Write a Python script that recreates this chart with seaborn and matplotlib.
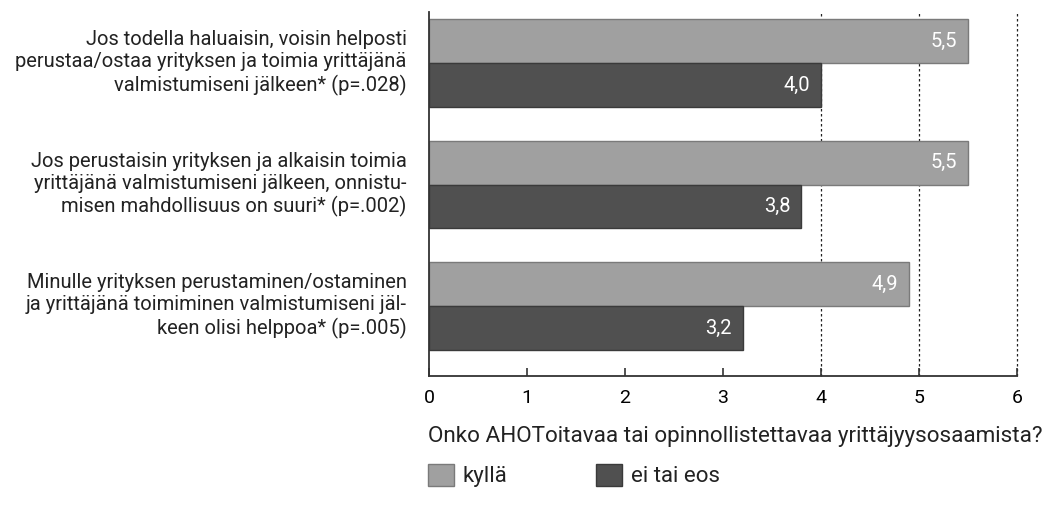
import matplotlib
matplotlib.use("Agg")
import matplotlib.pyplot as plt
import matplotlib.transforms as mtransforms
import seaborn as sns
import pandas as pd
from matplotlib.patches import Patch

categories = [
    "Jos todella haluaisin, voisin helposti\nperustaa/ostaa yrityksen ja toimia yrittäjänä\nvalmistumiseni jälkeen* (p=.028)",
    "Jos perustaisin yrityksen ja alkaisin toimia\nyrittäjänä valmistumiseni jälkeen, onnistu-\nmisen mahdollisuus on suuri* (p=.002)",
    "Minulle yrityksen perustaminen/ostaminen\nja yrittäjänä toimiminen valmistumiseni jäl-\nkeen olisi helppoa* (p=.005)",
]
series_names = ["kyllä", "ei tai eos"]
kylla_values = [5.5, 5.5, 4.9]
ei_values = [4.0, 3.8, 3.2]
x_ticks = [0, 1, 2, 3, 4, 5, 6]
legend_title = "Onko AHOToitavaa tai opinnollistettavaa yrittäjyysosaamista?"

df = pd.DataFrame({
    "cat": categories * 2,
    "group": [series_names[0]] * 3 + [series_names[1]] * 3,
    "value": kylla_values + ei_values,
})

sns.set_theme(style="white")
plt.rcParams["font.family"] = ["Roboto", "DejaVu Sans"]

colors = {"kyllä": "#a0a0a0", "ei tai eos": "#505050"}
edges = {"kyllä": "#7a7a7a", "ei tai eos": "#3a3a3a"}

fig = plt.figure(figsize=(10.49, 5.19), dpi=100)
ax = fig.add_axes([0.409, 0.2755, 0.5605, 0.7013])

for xv in [4, 5, 6]:
    ax.axvline(xv, color="#222222", linestyle=(0, (2, 2)), linewidth=0.9,
               zorder=0, clip_on=False)

sns.barplot(data=df, y="cat", x="value", hue="group", orient="h",
            palette=colors, width=0.72, ax=ax, legend=False, zorder=2,
            linewidth=1.0)

for cont, name in zip(ax.containers, series_names):
    for p in cont.patches:
        p.set_edgecolor(edges[name])
    labels = [f"{v:.1f}".replace(".", ",") for v in cont.datavalues]
    texts = ax.bar_label(cont, labels=labels, padding=-8, color="white", fontsize=14.5)
    for t in texts:
        t.set_horizontalalignment("right")

ax.set_xlim(0, 6)
ax.set_ylim(2.576, -0.42)
ax.set_xticks(x_ticks)
ax.set_xticklabels([str(t) for t in x_ticks], fontsize=14, color="#000000")
ax.set_xlabel("")
ax.set_ylabel("")
ax.tick_params(axis="x", direction="in", length=5.5, width=1.2, color="#333333", pad=9, bottom=True)
ax.tick_params(axis="y", length=0, pad=16, labelsize=14.5, labelcolor="#222222")
shift = mtransforms.ScaledTranslation(0, 0.04, fig.dpi_scale_trans)
for lbl in ax.get_yticklabels():
    lbl.set_horizontalalignment("right")
    lbl.set_linespacing(1.2)
    lbl.set_transform(lbl.get_transform() + shift)

for s in ["top", "right"]:
    ax.spines[s].set_visible(False)
for s in ["left", "bottom"]:
    ax.spines[s].set_color("#333333")
    ax.spines[s].set_linewidth(1.3)

handles = [Patch(facecolor=colors[n], edgecolor=edges[n], label=n) for n in series_names]
leg = fig.legend(handles=handles, loc="upper left", bbox_to_anchor=(428 / 1049, 1 - 426 / 519),
                 ncol=2, frameon=False, title=legend_title, title_fontsize=16.2,
                 fontsize=16, handlelength=1.15, handleheight=1.15, columnspacing=4.0,
                 handletextpad=0.4, alignment="left", borderpad=0, borderaxespad=0,
                 labelspacing=0.8)
leg._legend_box.sep = 12
for t in leg.get_texts():
    t.set_color("#222222")
leg.get_title().set_color("#222222")

fig.savefig("out.png", dpi=100)
